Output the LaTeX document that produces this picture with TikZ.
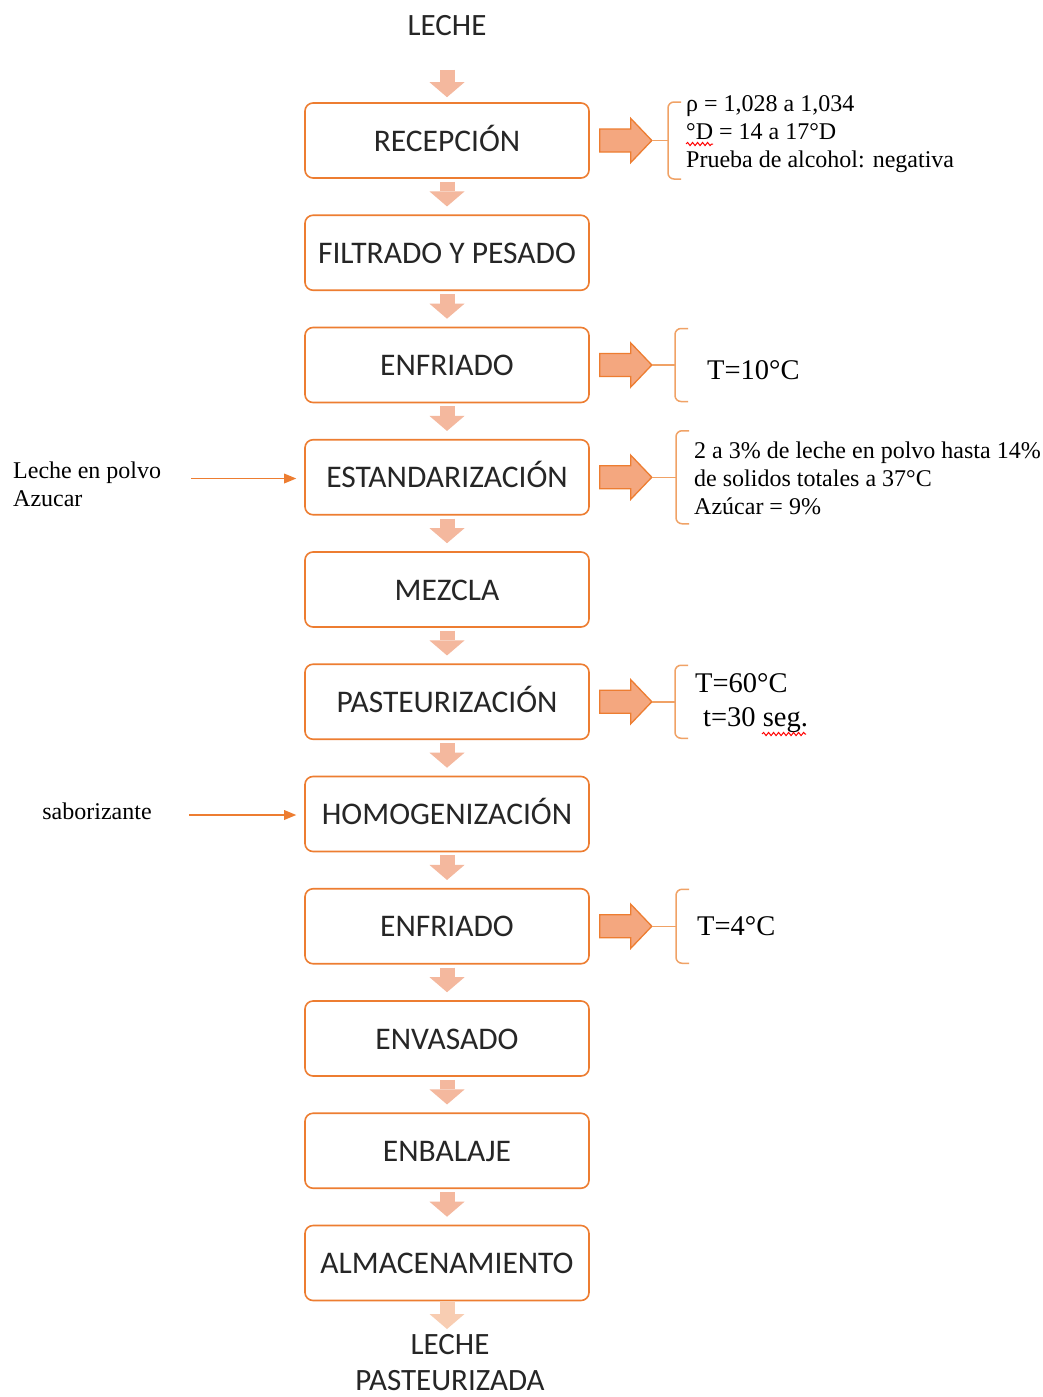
\documentclass[tikz,border=0pt]{standalone}
\usepackage{fontspec}
\setmainfont{Liberation Serif}
\newfontfamily\boxfont{Carlito}
\usetikzlibrary{arrows.meta,calc,decorations.pathmorphing}

\definecolor{boxorange}{HTML}{ED7D31}
\definecolor{flowfill}{HTML}{F4B89E}
\definecolor{flowlight}{HTML}{F8CDB2}
\definecolor{sidefill}{HTML}{F4A77F}
\definecolor{bracecol}{HTML}{F0A266}
\definecolor{textdark}{HTML}{262626}

\tikzset{
  stepbox/.style={draw=boxorange, line width=1.6pt, rounded corners=8pt,
    minimum width=284pt, minimum height=75pt, inner sep=0pt,
    text height=21pt, text depth=0pt,
    font=\boxfont\fontsize{31.5}{36}\selectfont, text=textdark},
  endlabel/.style={font=\boxfont\fontsize{31}{36}\selectfont, text=textdark,
    align=center, inner sep=0pt},
  flow/.style={draw=flowfill, line width=15pt,
    -{Triangle[width=35pt,length=15pt,line width=0pt]},
    shorten <=3pt, shorten >=8pt},
  feed/.style={draw=boxorange, line width=1.6pt,
    -{Triangle[width=10pt,length=12pt,line width=0pt]}, shorten >=8pt},
  bracestyle/.style={draw=bracecol, line width=1.5pt},
  infotext/.style={font=\fontsize{24}{28}\selectfont, align=left, inner sep=0pt, anchor=west},
  bigtext/.style={font=\fontsize{28.5}{34}\selectfont, align=left, inner sep=0pt, anchor=west},
  spell/.style={draw=red, line width=1pt,
    decorate, decoration={snake, amplitude=1.6pt, segment length=5pt}},
  blockarrow/.pic={
    \draw[draw=boxorange, fill=sidefill, line width=1.3pt, line join=miter]
      (0,-11.5) -- (31,-11.5) -- (31,-22) -- (52,0) -- (31,22) -- (31,11.5)
      -- (0,11.5) -- cycle;
  },
  sidebrace/.pic={
    \draw[bracestyle, rounded corners=6pt]
      (13,-#1) -- (0,-#1) -- (0,#1) -- (13,#1);
  }
}

\begin{document}
\begin{tikzpicture}[x=1pt, y=-1pt]
  \fill[white] (0,0) rectangle (1043,1397);
  \useasboundingbox (0,0) rectangle (1043,1397);

  % process steps
  \node[stepbox] (b1)  at (447,140.5)  {RECEPCIÓN};
  \node[stepbox] (b2)  at (447,252.75) {FILTRADO Y PESADO};
  \node[stepbox] (b3)  at (447,365)    {ENFRIADO};
  \node[stepbox] (b4)  at (447,477.25) {ESTANDARIZACIÓN};
  \node[stepbox] (b5)  at (447,589.5)  {MEZCLA};
  \node[stepbox] (b6)  at (447,701.75) {PASTEURIZACIÓN};
  \node[stepbox] (b7)  at (447,814)    {HOMOGENIZACIÓN};
  \node[stepbox] (b8)  at (447,926.25) {ENFRIADO};
  \node[stepbox] (b9)  at (447,1038.5) {ENVASADO};
  \node[stepbox] (b10) at (447,1150.75){ENBALAJE};
  \node[stepbox] (b11) at (447,1263)   {ALMACENAMIENTO};

  % input and output
  \node[endlabel] (milk) at (447,26) {LECHE};
  \node[endlabel] (product) at (450,1363) {LECHE\\PASTEURIZADA};

  % main flow
  \coordinate (s0) at (447,70);
  \draw[flow, shorten <=0pt, shorten >=5pt] (s0) -- (b1.north);
  \foreach \i [evaluate=\i as \j using int(\i+1)] in {1,...,10}
    \draw[flow] (b\i.south) -- (b\j.north);
  \coordinate (s12) at (447,1329);
  \draw[flow, draw=flowlight, shorten <=1pt, shorten >=0pt] (b11.south) -- (s12);

  % additions on the left
  \node[infotext] (add1) at (13,484) {Leche en polvo\\Azucar};
  \coordinate (f1) at (191,478.5);
  \draw[feed] (f1) -- (f1 -| b4.west);
  \node[infotext, anchor=center] (add2) at (97,811) {saborizante};
  \coordinate (f2) at (189,815);
  \draw[feed] (f2) -- (f2 -| b7.west);

  % control parameters on the right
  \foreach \b/\x/\h in {b1/668/38.5, b3/675/36.5, b4/676/46.5, b6/675/36.5, b8/676/37} {
    \path ($(\b.east)+(10,0)$) pic {blockarrow};
    \coordinate (tip-\b) at ($(\b.east)+(62,0)$);
    \coordinate (br-\b) at (\x,0 |- \b.east);
    \draw[bracestyle] (tip-\b) -- (br-\b);
    \path (br-\b) pic {sidebrace=\h};
  }

  \node[infotext] (p1) at (686,134)
    {ρ = 1,028 a 1,034\\°D = 14 a 17°D\\Prueba de alcohol: negativa};
  \node[bigtext] (p3) at (707,370) {T=10°C};
  \node[infotext] (p4) at (694,478)
    {2 a 3\% de leche en polvo hasta 14\%\\de solidos totales a 37°C\\Azúcar = 9\%};
  \node[bigtext] (p6) at (695,703) {T=60°C\\\hspace*{8pt}t=30 seg.};
  \node[bigtext] (p8) at (697,926) {T=4°C};

  % spelling marks
  \draw[spell] (686,144) -- (713,144);
  \draw[spell] (762,734) -- (806,734);
\end{tikzpicture}
\end{document}
